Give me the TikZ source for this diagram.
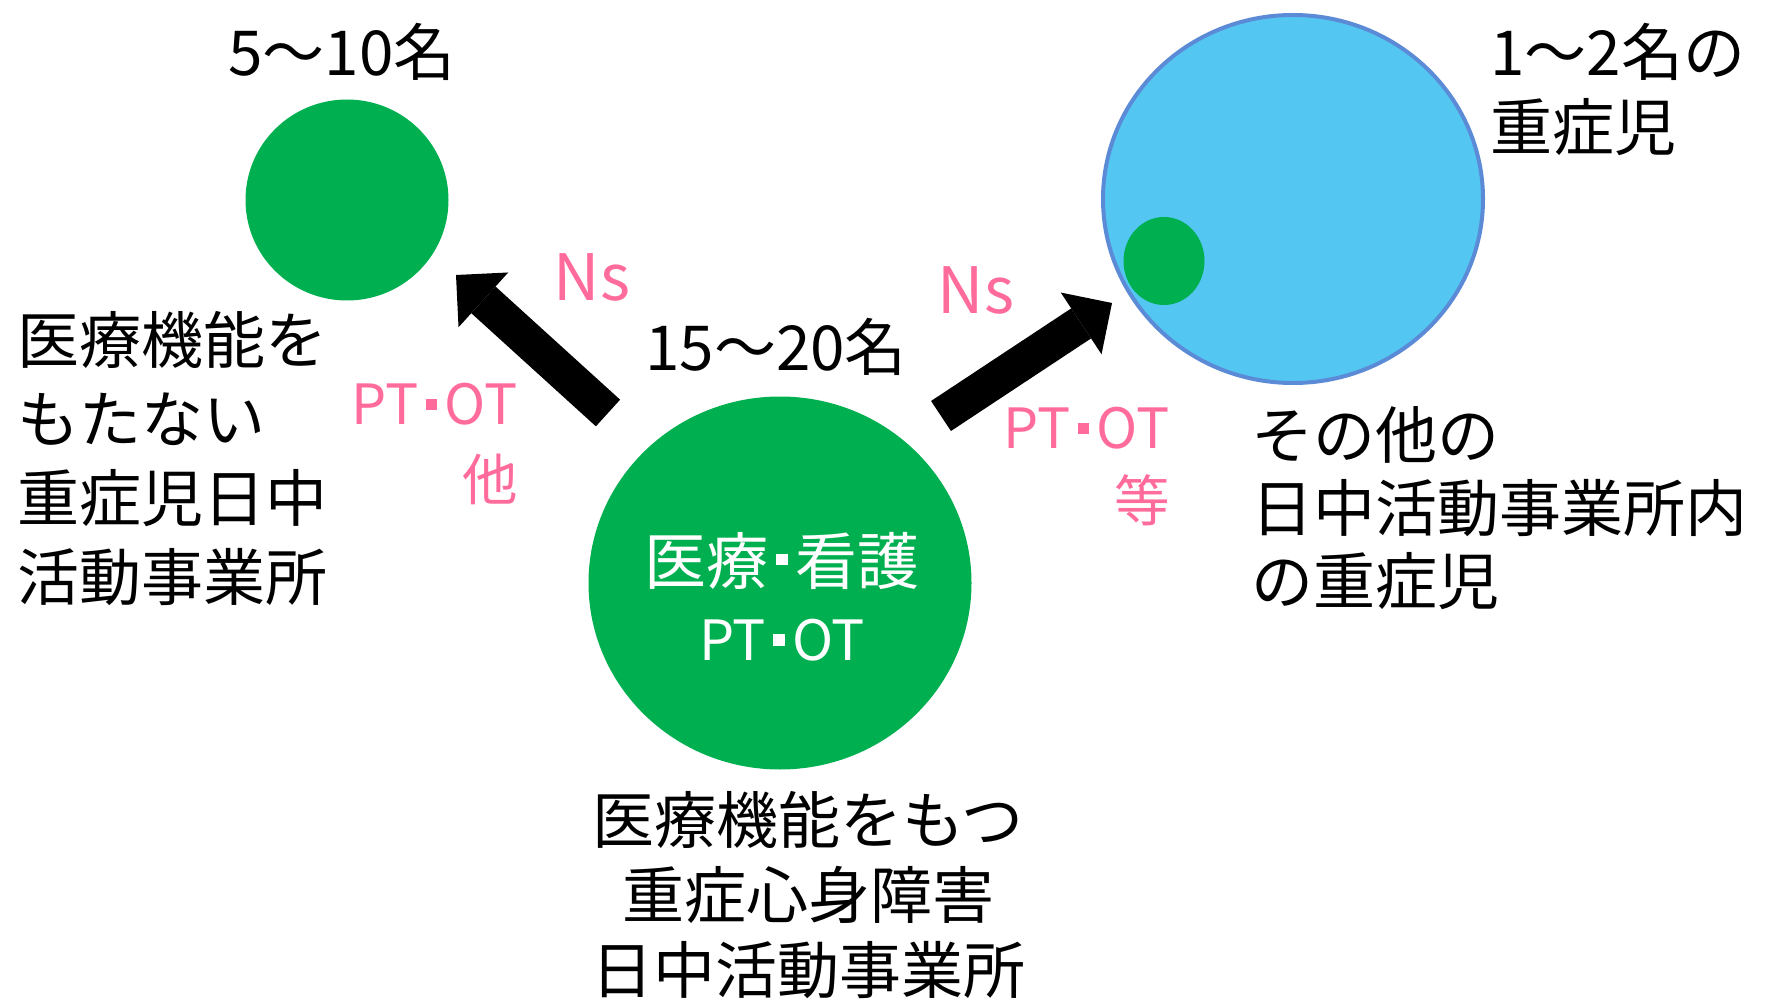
\documentclass[tikz,border=0pt]{standalone}
\usepackage{fontspec}
\setmainfont{Noto Sans CJK JP}
\usetikzlibrary{arrows.meta,shapes.geometric}
\definecolor{pgreen}{RGB}{0,176,80}
\definecolor{pblue}{RGB}{84,198,242}
\definecolor{pborder}{RGB}{91,139,214}
\definecolor{ppink}{RGB}{255,108,156}
\newcommand\sqdotlat{\kern.13em\rule[.26em]{.21em}{.21em}\kern.13em}
\newcommand\sqdotcjk{\kern.12em\rule[.3em]{.18em}{.18em}\kern.12em}
\begin{document}
\begin{tikzpicture}[x=0.5pt,y=-0.5pt,
  blob/.style={ellipse, fill=pgreen, inner sep=0pt},
  bigtxt/.style={inner sep=0pt, font=\fontsize{31pt}{38pt}\selectfont},
  pinktxt/.style={inner sep=0pt, text=ppink, font=\fontsize{27.75pt}{38pt}\selectfont},
  bigarrow/.style={line width=18pt, -{Triangle[length=18.5pt, width=37pt, line width=0pt]}}
]
\path[use as bounding box, fill=white] (0,0) rectangle (1767,1000);

% circles
\node[blob, minimum width=101.5pt, minimum height=100.5pt] (small) at (347,200) {};
\node[blob, minimum width=191.5pt, minimum height=186.5pt] (center) at (780,583) {};
\node[ellipse, fill=pblue, draw=pborder, line width=2pt, minimum width=190pt, minimum height=184pt, inner sep=0pt] (blue) at (1293,199) {};
\node[blob, minimum width=40.5pt, minimum height=44pt] (inner) at (1164,261) {};

% arrows
\coordinate (la) at (608,413);
\coordinate (lb) at (456,275);
\coordinate (ra) at (941,416);
\coordinate (rb) at (1112,303);
\draw[bigarrow] (la) -- (lb);
\draw[bigarrow] (ra) -- (rb);

% texts
\node[bigtxt, anchor=north] (n510) at (342,23) {5～10名};
\node[bigtxt, anchor=north] (n1520) at (776,318) {15～20名};
\node[bigtxt, anchor=north west, align=left, font=\fontsize{31pt}{37.5pt}\selectfont] (n12) at (1490,23) {1～2名の\\重症児};
\node[bigtxt, anchor=north west, align=left, font=\fontsize{31pt}{39.5pt}\selectfont] (ltxt) at (17,311) {医療機能を\\もたない\\重症児日中\\活動事業所};
\node[bigtxt, anchor=north west, align=left, font=\fontsize{31pt}{36.5pt}\selectfont] (rtxt) at (1251,406) {その他の\\日中活動事業所内\\の重症児};
\node[bigtxt, anchor=north, align=center, font=\fontsize{31pt}{37.5pt}\selectfont] (btxt) at (808,791) {医療機能をもつ\\重症心身障害\\日中活動事業所};

\node[bigtxt, anchor=base, text=white] (ctxt1) at (782,584) {医療\sqdotcjk 看護};
\node[pinktxt, anchor=base, text=white] (ctxt2) at (782,660) {PT\sqdotlat OT};

\node[inner sep=0pt, anchor=north, text=ppink, font=\fontsize{32pt}{38pt}\selectfont] (nsl) at (592,253) {Ns};
\node[inner sep=0pt, anchor=north, text=ppink, font=\fontsize{32pt}{38pt}\selectfont] (nsr) at (976,266) {Ns};
\node[pinktxt, anchor=north east, align=right] (ptl) at (518,383) {PT\sqdotlat OT\\他};
\node[pinktxt, anchor=north east, align=right, font=\fontsize{27.75pt}{36.5pt}\selectfont] (ptr) at (1170,407) {PT\sqdotlat OT\\等};
\end{tikzpicture}
\end{document}
